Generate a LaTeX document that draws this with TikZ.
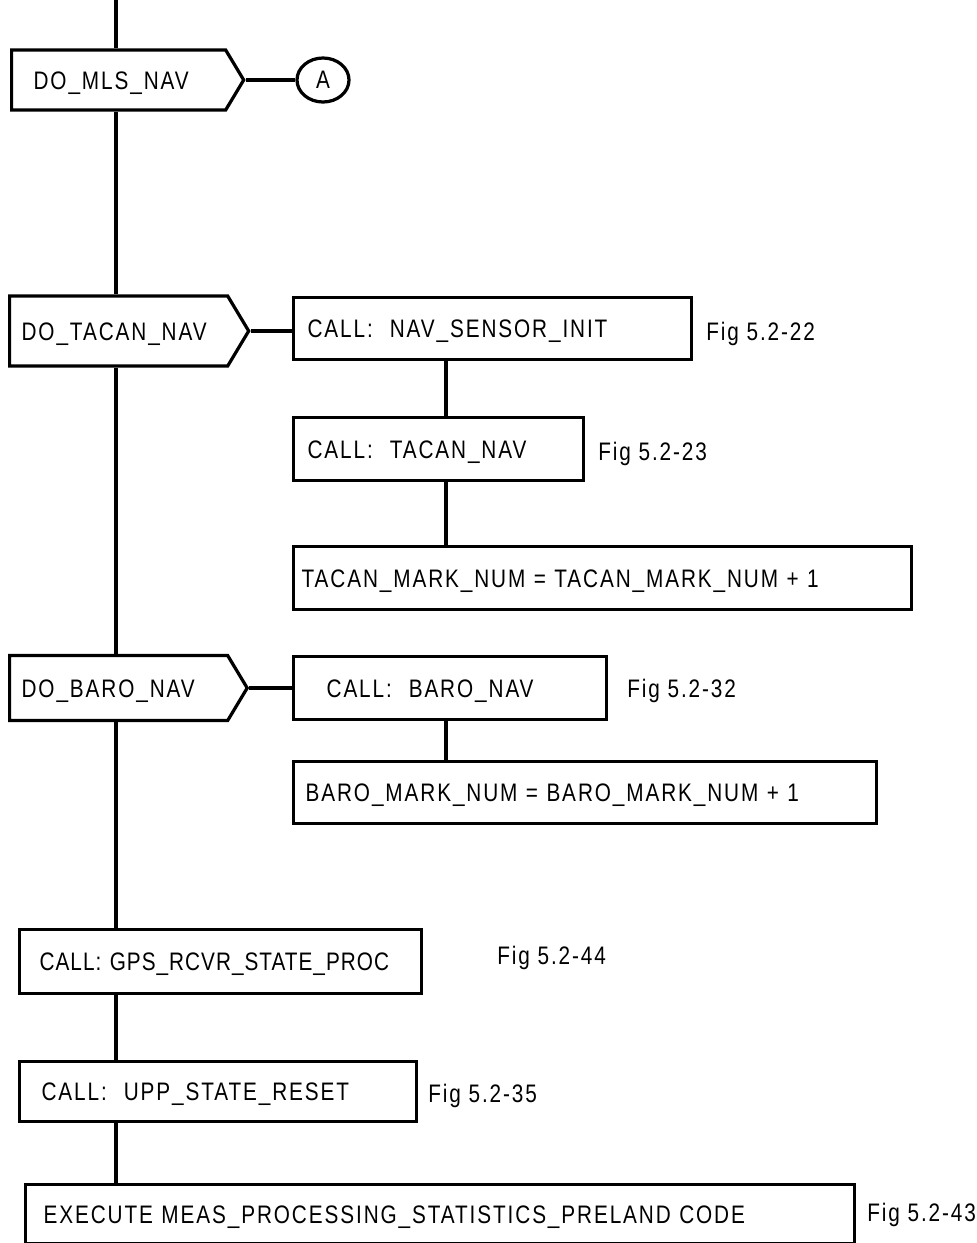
\documentclass[tikz,border=0pt]{standalone}
\usepackage{fontspec}
\setmainfont{Liberation Sans}[FakeStretch=0.82,LetterSpace=7.5]
\usetikzlibrary{positioning,shapes.geometric,shapes.symbols}

\begin{document}
\begin{tikzpicture}[
  x=0.025cm, y=-0.025cm,
  font=\fontsize{18}{21}\selectfont,
  box/.style={draw,line width=2.3pt,anchor=north west,align=left,inner ysep=0pt,text height=12.9pt,text depth=0pt},
  case/.style={draw,line width=2.3pt,signal,signal to=east,signal pointer angle=118,anchor=west,align=left,inner ysep=0pt,text height=12.9pt,text depth=0pt},
  fig/.style={anchor=west,inner sep=0pt,text height=12.9pt,text depth=0pt},
  link/.style={line width=2.3pt}
]
  \useasboundingbox (0,0) rectangle (976,1243);
  \coordinate (top) at (116,0);
  \coordinate (sub) at (446,0);

  % main column
  \node[case, minimum height=1.5cm, inner xsep=0.55cm, text width=4.25cm] (mls) at (10,80) {DO\_MLS\_NAV};
  \node[draw, ellipse, line width=2.3pt, minimum width=1.3cm, minimum height=1.1cm, inner sep=0pt] (a) at (323,80) {A};
  \node[case, minimum height=1.75cm, inner xsep=0.3cm, text width=4.85cm] (tacan) at (8,331) {DO\_TACAN\_NAV};
  \node[case, minimum height=1.625cm, inner xsep=0.3cm, text width=4.85cm] (baro) at (8,688) {DO\_BARO\_NAV};
  \node[box, minimum height=1.6cm, inner xsep=0.5cm, text width=9.05cm] (gps) at (18,928)
    {\addfontfeatures{LetterSpace=4}\mbox{CALL: GPS\_RCVR\_STATE\_PROC}};
  \node[box, minimum height=1.5cm, inner xsep=0.55cm, text width=8.825cm] (upp) at (18,1060) {CALL:\ \ UPP\_STATE\_RESET};
  \node[box, minimum height=1.475cm, inner xsep=0.45cm, text width=19.825cm] (exec) at (24,1183) {EXECUTE MEAS\_PROCESSING\_STATISTICS\_PRELAND CODE};

  % tacan branch
  \node[box, minimum height=1.55cm, inner xsep=0.35cm, text width=9.25cm] (navinit) at (292,296) {CALL:\ \ NAV\_SENSOR\_INIT};
  \node[box, minimum height=1.575cm, inner xsep=0.35cm, text width=6.55cm] (tacancall) at (292,416) {CALL:\ \ TACAN\_NAV};
  \node[box, minimum height=1.575cm, inner xsep=0.2cm, text width=15.05cm] (tacanmark) at (292,545) {TACAN\_MARK\_NUM = TACAN\_MARK\_NUM + 1};

  % baro branch
  \node[box, minimum height=1.575cm, inner xsep=0.825cm, text width=6.175cm] (barocall) at (292,655) {CALL:\ \ BARO\_NAV};
  \node[box, minimum height=1.55cm, inner xsep=0.3cm, text width=13.975cm] (baromark) at (292,760) {BARO\_MARK\_NUM = BARO\_MARK\_NUM + 1};

  % figure references
  \node[fig] (f22) at (706,331) {Fig 5.2-22};
  \node[fig] (f23) at (598,451) {Fig 5.2-23};
  \node[fig] (f32) at (627,688) {Fig 5.2-32};
  \node[fig] (f44) at (497,955) {Fig 5.2-44};
  \node[fig] (f35) at (428,1093) {Fig 5.2-35};
  \node[fig] (f43) at (867,1212) {Fig 5.2-43};

  \draw[link] (top) -- (mls.north -| top);
  \draw[link] (mls.south -| top) -- (tacan.north -| top);
  \draw[link] (tacan.south -| top) -- (baro.north -| top);
  \draw[link] (baro.south -| top) -- (gps.north -| top);
  \draw[link] (gps.south -| top) -- (upp.north -| top);
  \draw[link] (upp.south -| top) -- (exec.north -| top);
  \draw[link] (mls.east) -- (a.west);
  \draw[link] (tacan.east) -- (tacan.east -| navinit.west);
  \draw[link] (navinit.south -| sub) -- (tacancall.north -| sub);
  \draw[link] (tacancall.south -| sub) -- (tacanmark.north -| sub);
  \draw[link] (baro.east) -- (baro.east -| barocall.west);
  \draw[link] (barocall.south -| sub) -- (baromark.north -| sub);
\end{tikzpicture}
\end{document}
